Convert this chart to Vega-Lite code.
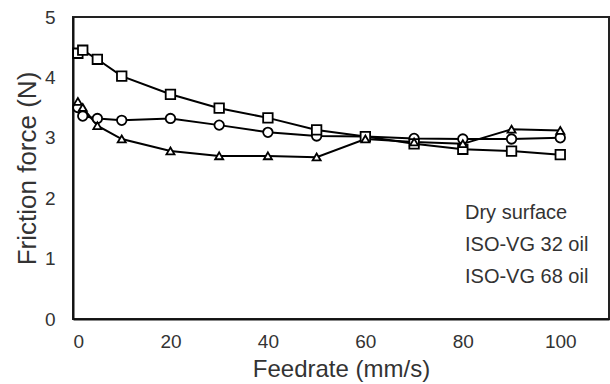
{
  "$schema": "https://vega.github.io/schema/vega-lite/v6.json",
  "width": 536,
  "height": 302,
  "autosize": {"type": "none"},
  "padding": {"left": 73, "top": 17, "right": 1, "bottom": 65},
  "background": "white",
  "config": {
    "view": {"stroke": "#222", "strokeWidth": 2},
    "font": "Liberation Sans",
    "axis": {"grid": false, "ticks": false, "domainColor": "#111", "domainWidth": 2, "labelColor": "#333", "titleColor": "#333", "labelFont": "Liberation Sans", "titleFont": "Liberation Sans", "titleFontWeight": "normal"}
  },
  "data": {
    "values": [
      {"series": "Dry surface", "x": 1, "y": 3.5},
      {"series": "Dry surface", "x": 2, "y": 3.36},
      {"series": "Dry surface", "x": 5, "y": 3.32},
      {"series": "Dry surface", "x": 10, "y": 3.29},
      {"series": "Dry surface", "x": 20, "y": 3.32},
      {"series": "Dry surface", "x": 30, "y": 3.21},
      {"series": "Dry surface", "x": 40, "y": 3.09},
      {"series": "Dry surface", "x": 50, "y": 3.03},
      {"series": "Dry surface", "x": 60, "y": 3.02},
      {"series": "Dry surface", "x": 70, "y": 2.99},
      {"series": "Dry surface", "x": 80, "y": 2.98},
      {"series": "Dry surface", "x": 90, "y": 2.98},
      {"series": "Dry surface", "x": 100, "y": 3.0},
      {"series": "ISO-VG 32 oil", "x": 1, "y": 4.4},
      {"series": "ISO-VG 32 oil", "x": 2, "y": 4.45},
      {"series": "ISO-VG 32 oil", "x": 5, "y": 4.3},
      {"series": "ISO-VG 32 oil", "x": 10, "y": 4.02},
      {"series": "ISO-VG 32 oil", "x": 20, "y": 3.72},
      {"series": "ISO-VG 32 oil", "x": 30, "y": 3.49},
      {"series": "ISO-VG 32 oil", "x": 40, "y": 3.33},
      {"series": "ISO-VG 32 oil", "x": 50, "y": 3.13},
      {"series": "ISO-VG 32 oil", "x": 60, "y": 3.02},
      {"series": "ISO-VG 32 oil", "x": 70, "y": 2.9},
      {"series": "ISO-VG 32 oil", "x": 80, "y": 2.81},
      {"series": "ISO-VG 32 oil", "x": 90, "y": 2.78},
      {"series": "ISO-VG 32 oil", "x": 100, "y": 2.72},
      {"series": "ISO-VG 68 oil", "x": 1, "y": 3.6},
      {"series": "ISO-VG 68 oil", "x": 2, "y": 3.5},
      {"series": "ISO-VG 68 oil", "x": 5, "y": 3.2},
      {"series": "ISO-VG 68 oil", "x": 10, "y": 2.98},
      {"series": "ISO-VG 68 oil", "x": 20, "y": 2.78},
      {"series": "ISO-VG 68 oil", "x": 30, "y": 2.7},
      {"series": "ISO-VG 68 oil", "x": 40, "y": 2.7},
      {"series": "ISO-VG 68 oil", "x": 50, "y": 2.68},
      {"series": "ISO-VG 68 oil", "x": 60, "y": 2.98},
      {"series": "ISO-VG 68 oil", "x": 70, "y": 2.93},
      {"series": "ISO-VG 68 oil", "x": 80, "y": 2.9},
      {"series": "ISO-VG 68 oil", "x": 90, "y": 3.14},
      {"series": "ISO-VG 68 oil", "x": 100, "y": 3.12}
    ]
  },
  "encoding": {
    "x": {"field": "x", "type": "quantitative", "scale": {"domain": [0, 110], "nice": false, "zero": true}, "axis": {"values": [0, 20, 40, 60, 80, 100], "title": "Feedrate (mm/s)", "labelFontSize": 19, "titleFontSize": 24, "labelPadding": 13, "titlePadding": 6}},
    "y": {"field": "y", "type": "quantitative", "scale": {"domain": [0, 5], "nice": false}, "axis": {"values": [0, 1, 2, 3, 4, 5], "title": "Friction force (N)", "labelFontSize": 19, "titleFontSize": 26, "labelPadding": 18, "titlePadding": 4}}
  },
  "layer": [
    {
      "mark": {"type": "line", "color": "black", "strokeWidth": 2},
      "encoding": {"detail": {"field": "series", "type": "nominal"}}
    },
    {
      "mark": {"type": "point", "filled": true, "fill": "white", "stroke": "black", "strokeWidth": 1.8, "size": 90, "opacity": 1},
      "encoding": {
        "shape": {
          "field": "series", "type": "nominal",
          "scale": {"domain": ["Dry surface", "ISO-VG 32 oil", "ISO-VG 68 oil"], "range": ["circle", "square", "M0,-0.75L0.85,0.7H-0.85Z"]},
          "legend": null
        }
      }
    },
    {
      "transform": [{"filter": "false"}],
      "mark": {"type": "point", "filled": true, "fill": "white", "stroke": "black", "strokeWidth": 2, "size": 1156, "opacity": 1},
      "encoding": {
        "shape": {
          "field": "series", "type": "nominal",
          "scale": {"domain": ["Dry surface", "ISO-VG 32 oil", "ISO-VG 68 oil"], "range": [
            "M-1,0H-0.25M0.25,0H1M0.25,0A0.25,0.25,0,1,1,-0.25,0A0.25,0.25,0,1,1,0.25,0Z",
            "M-1,0H-0.25M0.25,0H1M-0.25,-0.25H0.25V0.25H-0.25Z",
            "M-1,0H-0.18M0.18,0H1M0,-0.26L0.22,0.1H-0.22Z"
          ]},
          "legend": {
            "title": null, "orient": "none", "legendX": 354, "legendY": 178, "padding": 0,
            "symbolSize": 1156, "symbolStrokeWidth": 2, "symbolStrokeColor": "black", "symbolFillColor": "white",
            "rowPadding": 4, "labelFontSize": 20, "labelOffset": 2, "labelColor": "#333", "labelFont": "Liberation Sans"
          }
        }
      }
    }
  ],
  "resolve": {"scale": {"shape": "independent"}, "legend": {"shape": "independent"}}
}
